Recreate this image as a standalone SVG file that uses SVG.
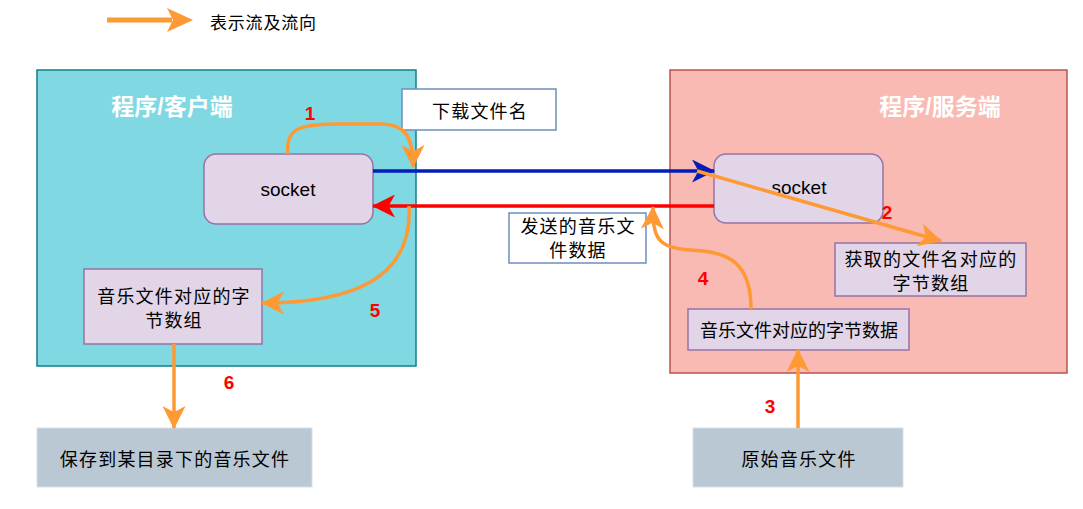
<svg xmlns="http://www.w3.org/2000/svg" width="1083" height="509" viewBox="0 0 1083 509">
<style>
.cjk{font-family:"Noto Sans CJK SC","Liberation Sans",sans-serif;font-size:18px;letter-spacing:1.2px;fill:#000;text-anchor:middle;dominant-baseline:central}
.title{font-family:"Liberation Sans","Noto Sans CJK SC",sans-serif;font-size:23px;font-weight:bold;fill:#fff;text-anchor:middle;dominant-baseline:central}
.num{font-family:"Liberation Sans",sans-serif;font-size:19px;font-weight:bold;fill:#ff0000;text-anchor:middle;dominant-baseline:central}
.sock{font-family:"Liberation Sans",sans-serif;font-size:19px;fill:#000;text-anchor:middle;dominant-baseline:central}
.purple{fill:#e1d5e7;stroke:#9673a6;stroke-width:1.5}
.gray{fill:#bac8d3;stroke:#d5dfe7;stroke-width:1}
.lbl{fill:#fff;stroke:#6c8ebf;stroke-width:1.5}
.or{fill:none;stroke:#ff9933;stroke-width:3.5;marker-end:url(#hOr)}
</style>
<defs>
<marker id="hOr" viewBox="0 0 22 22" refX="21" refY="11" markerWidth="23" markerHeight="23" markerUnits="userSpaceOnUse" orient="auto"><path d="M0,0 L22,11 L0,22 L6,11 Z" fill="#ff9933"/></marker>
<marker id="hBl" viewBox="0 0 22 22" refX="21" refY="11" markerWidth="23" markerHeight="23" markerUnits="userSpaceOnUse" orient="auto"><path d="M0,0 L22,11 L0,22 L6,11 Z" fill="#001dbc"/></marker>
<marker id="hRd" viewBox="0 0 22 22" refX="21" refY="11" markerWidth="23" markerHeight="23" markerUnits="userSpaceOnUse" orient="auto"><path d="M0,0 L22,11 L0,22 L6,11 Z" fill="#ff0000"/></marker>
</defs>
<rect width="1083" height="509" fill="#fff"/>
<g id="legend">
<line x1="107" y1="20" x2="172" y2="20" stroke="#ff9933" stroke-width="5"/>
<path d="M167,8 L193,20 L167,32 L173,20 Z" fill="#ff9933"/>
<text x="210" y="21" class="cjk" style="text-anchor:start;font-size:17px;letter-spacing:0.8px">表示流及流向</text>
</g>
<g id="client">
<rect x="37" y="70" width="379" height="296" fill="#80d8e3" stroke="#0e8088" stroke-width="1.5"/>
<text x="172" y="107" class="title">程序/客户端</text>
</g>
<g id="server">
<rect x="670" y="70" width="397" height="303" fill="#f8bab2" stroke="#b85450" stroke-width="1.5"/>
<text x="940" y="107" class="title">程序/服务端</text>
</g>
<g id="client-socket">
<rect x="204" y="154" width="169" height="70" rx="12" class="purple"/>
<text x="288" y="189" class="sock">socket</text>
</g>
<g id="server-socket">
<rect x="714" y="154" width="169" height="69" rx="12" class="purple"/>
<text x="799" y="187" class="sock">socket</text>
</g>
<g id="client-bytes">
<rect x="84" y="269" width="178" height="75" class="purple"/>
<text x="174" y="295" class="cjk">音乐文件对应的字</text>
<text x="174" y="319" class="cjk">节数组</text>
</g>
<g id="server-name-bytes">
<rect x="835" y="243" width="191" height="53" class="purple"/>
<text x="931" y="258" class="cjk">获取的文件名对应的</text>
<text x="931" y="282" class="cjk">字节数组</text>
</g>
<g id="server-data">
<rect x="688" y="309" width="221" height="41" class="purple"/>
<text x="799" y="329" class="cjk" style="letter-spacing:0px">音乐文件对应的字节数据</text>
</g>
<g id="save-file">
<rect x="37" y="428" width="275" height="59" class="gray"/>
<text x="175" y="458" class="cjk">保存到某目录下的音乐文件</text>
</g>
<g id="orig-file">
<rect x="693" y="428" width="210" height="59" class="gray"/>
<text x="799" y="458" class="cjk">原始音乐文件</text>
</g>
<g id="label-download">
<rect x="402" y="89" width="154" height="41" class="lbl"/>
<text x="480" y="110" class="cjk">下载文件名</text>
</g>
<g id="label-send">
<rect x="509" y="213" width="137" height="50" class="lbl"/>
<text x="578" y="225" class="cjk">发送的音乐文</text>
<text x="578" y="249" class="cjk">件数据</text>
</g>
<g id="connectors">
<line x1="373" y1="171" x2="714" y2="171" stroke="#001dbc" stroke-width="3.5" marker-end="url(#hBl)"/>
<line x1="714" y1="206" x2="373" y2="206" stroke="#ff0000" stroke-width="3.5" marker-end="url(#hRd)"/>
<path class="or" d="M288,154 C285,128 300,124 340,124 L380,124 C405,124 413,136 413,167"/>
<path class="or" d="M697,171 L941,241"/>
<path class="or" d="M798,428 L798,350"/>
<path class="or" d="M751,309 C751,255 720,252 690,250 C660,248 652,240 653,207"/>
<path class="or" d="M409,206 C413,280 350,303 262,303"/>
<path class="or" d="M174,344 L174,428"/>
</g>
<g id="step-numbers">
<text x="310" y="113" class="num">1</text>
<text x="887" y="212" class="num">2</text>
<text x="770" y="406" class="num">3</text>
<text x="703" y="278" class="num">4</text>
<text x="375" y="310" class="num">5</text>
<text x="229" y="382" class="num">6</text>
</g>
</svg>
